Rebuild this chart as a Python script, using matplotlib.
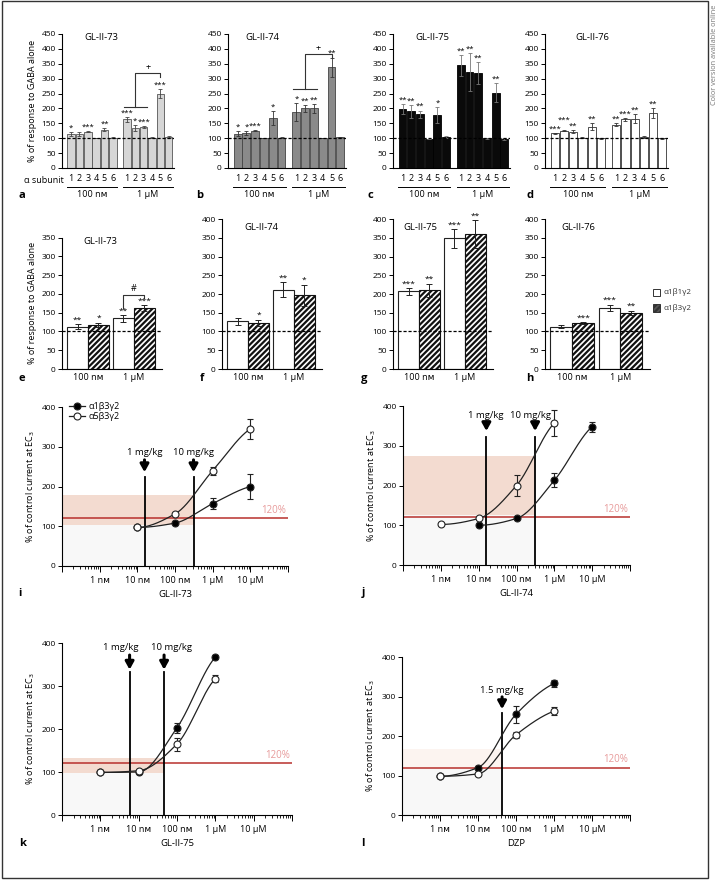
import numpy as np
import matplotlib
matplotlib.use("Agg")
import matplotlib.pyplot as plt
from matplotlib.lines import Line2D
from matplotlib.patches import Rectangle
from matplotlib.ticker import LogLocator, NullFormatter, FixedLocator

plt.rcParams['font.family'] = ['Open Sans', 'DejaVu Sans']
plt.rcParams['hatch.linewidth'] = 1.6
plt.rcParams['axes.linewidth'] = 0.8

# ---------------- data ----------------
subunits = ['1', '2', '3', '4', '5', '6']
conc_labels = ['100 nᴍ', '1 μM']

a_100 = [115, 115, 122, 100, 128, 102]; a_100_err = [6, 6, 2, 0, 5, 2]; a_100_sig = ['*', '', '***', '', '**', '']
a_1u = [163, 133, 137, 102, 250, 104]; a_1u_err = [7, 10, 4, 2, 15, 3]; a_1u_sig = ['***', '*', '***', '', '***', '']
b_100 = [115, 118, 125, 100, 168, 102]; b_100_err = [8, 6, 2, 0, 22, 2]; b_100_sig = ['*', '*', '***', '', '*', '']
b_1u = [188, 200, 200, 100, 338, 103]; b_1u_err = [30, 12, 15, 0, 33, 2]; b_1u_sig = ['*', '**', '**', '', '**', '']
c_100 = [198, 190, 180, 97, 177, 105]; c_100_err = [18, 22, 13, 0, 27, 4]; c_100_sig = ['**', '**', '**', '', '*', '']
c_1u = [345, 322, 320, 100, 252, 97]; c_1u_err = [35, 65, 37, 2, 32, 4]; c_1u_sig = ['**', '**', '**', '', '**', '']
d_100 = [117, 125, 122, 102, 138, 100]; d_100_err = [2, 1, 5, 2, 12, 1]; d_100_sig = ['***', '***', '**', '', '**', '']
d_1u = [145, 163, 165, 104, 185, 100]; d_1u_err = [5, 5, 15, 2, 18, 1]; d_1u_sig = ['**', '***', '**', '', '**', '']

receptor_labels = ['α1β1γ2', 'α1β3γ2']
e_b1 = [113, 135]; e_b1_err = [6, 9]; e_b1_sig = ['**', '**']
e_b3 = [117, 162]; e_b3_err = [6, 8]; e_b3_sig = ['*', '***']
f_b1 = [127, 211]; f_b1_err = [9, 20]; f_b1_sig = ['', '**']
f_b3 = [123, 197]; f_b3_err = [8, 28]; f_b3_sig = ['*', '*']
g_b1 = [207, 348]; g_b1_err = [9, 25]; g_b1_sig = ['***', '***']
g_b3 = [210, 360]; g_b3_err = [18, 37]; g_b3_sig = ['**', '**']
h_b1 = [113, 163]; h_b1_err = [5, 8]; h_b1_sig = ['', '***']
h_b3 = [122, 150]; h_b3_err = [2, 5]; h_b3_sig = ['***', '**']

curve_labels = ['α1β3γ2', 'α5β3γ2']
i_a1_x = [1e-8, 1e-7, 1e-6, 1e-5]; i_a1_y = [97, 108, 157, 200]; i_a1_err = [0, 0, 13, 32]
i_a5_x = [1e-8, 1e-7, 1e-6, 1e-5]; i_a5_y = [97, 131, 240, 345]; i_a5_err = [0, 0, 10, 25]
j_a1_x = [1e-8, 1e-7, 1e-6, 1e-5]; j_a1_y = [100, 117, 213, 348]; j_a1_err = [0, 0, 18, 13]
j_a5_x = [1e-9, 1e-8, 1e-7, 1e-6]; j_a5_y = [102, 117, 200, 357]; j_a5_err = [0, 0, 27, 33]
k_a1_x = [1e-9, 1e-8, 1e-7, 1e-6]; k_a1_y = [99, 100, 203, 367]; k_a1_err = [0, 0, 12, 5]
k_a5_x = [1e-9, 1e-8, 1e-7, 1e-6]; k_a5_y = [99, 103, 165, 317]; k_a5_err = [0, 0, 15, 8]
l_a1_x = [1e-9, 1e-8, 1e-7, 1e-6]; l_a1_y = [98, 120, 255, 333]; l_a1_err = [0, 0, 22, 8]
l_a5_x = [1e-9, 1e-8, 1e-7, 1e-6]; l_a5_y = [98, 104, 203, 263]; l_a5_err = [0, 0, 8, 10]

log_ticks = [1e-10, 1e-9, 1e-8, 1e-7, 1e-6, 1e-5, 1e-4]
log_ticklabels = ['', '1 nᴍ', '10 nᴍ', '100 nᴍ', '1 μM', '10 μM', '']

# ---------------- layout helpers ----------------
W, H = 719, 880
fig = plt.figure(figsize=(W / 100, H / 100), dpi=100)


def add_ax(x0, ytop, x1, ybot):
    return fig.add_axes([x0 / W, 1 - ybot / H, (x1 - x0) / W, (ybot - ytop) / H])


def ftext(x, y, s, **kw):
    kw.setdefault('ha', 'center')
    kw.setdefault('va', 'center')
    fig.text(x / W, 1 - y / H, s, **kw)


TICK = 6
STAR = 5.6


def style(ax):
    for s in ['top', 'right']:
        ax.spines[s].set_visible(False)
    ax.tick_params(labelsize=TICK, width=0.7, length=3, pad=1.5)


# ---------------- row 1: alpha-subunit bars ----------------
def bar_panel(ax, vals, color, edge, ecol):
    pos_groups = [np.arange(6), np.arange(6) + 6.7]
    for pos, (v, e, s) in zip(pos_groups, vals):
        ax.bar(pos, v, width=0.9, color=color, edgecolor=edge, linewidth=0.6, zorder=2)
        ax.errorbar(pos, v, yerr=e, fmt='none', ecolor=ecol, elinewidth=0.6,
                    capsize=1.3, capthick=0.6, zorder=3)
        last = None
        for p, val, er, st in zip(pos, v, e, s):
            if st:
                y = val + er + 1
                # stagger two neighbouring '***' labels so they do not collide
                if last is not None and p - last[0] <= 1.01 and abs(y - last[1]) < 26 \
                        and len(st) == 3 and len(last[2]) == 3:
                    y = last[1] + 27
                ax.text(p, y, st, ha='center', va='bottom', fontsize=STAR, zorder=4)
                last = (p, y, st)
            else:
                last = None
    ax.axhline(100, ls=(0, (2.5, 1.5)), color='k', lw=0.9, zorder=5)
    ax.set_xlim(-1.1, 12.35)
    ax.set_ylim(0, 450)
    ax.set_yticks(range(0, 451, 50))
    ax.set_xticks(np.concatenate(pos_groups), subunits * 2)
    style(ax)
    ax.tick_params(axis='x', length=0, pad=4, labelsize=6.5)
    tr = ax.get_xaxis_transform()
    for pos, lab in zip(pos_groups, conc_labels):
        ax.plot([pos[0] - 0.5, pos[-1] + 0.5], [-0.142, -0.142], color='k', lw=0.7,
                transform=tr, clip_on=False)
        ax.text(pos.mean(), -0.20, lab, transform=tr, ha='center', va='center', fontsize=6.5)
    return pos_groups


ax_a = add_ax(62, 34, 174, 168)
pa = bar_panel(ax_a, [(a_100, a_100_err, a_100_sig), (a_1u, a_1u_err, a_1u_sig)],
               '#d6d6d6', '#555555', '#444444')
ax_b = add_ax(228, 34, 346, 168)
pb = bar_panel(ax_b, [(b_100, b_100_err, b_100_sig), (b_1u, b_1u_err, b_1u_sig)],
               '#8a8a8a', '#444444', '#333333')
ax_c = add_ax(393, 34, 510, 168)
pc = bar_panel(ax_c, [(c_100, c_100_err, c_100_sig), (c_1u, c_1u_err, c_1u_sig)],
               '#0a0a0a', '#000000', '#777777')
ax_d = add_ax(545, 34, 668, 168)
pd = bar_panel(ax_d, [(d_100, d_100_err, d_100_sig), (d_1u, d_1u_err, d_1u_sig)],
               'white', '#333333', '#333333')

# comparison brackets (+)
g2 = pa[1]
ax_a.plot([g2[0] - 0.4, g2[2] + 0.4], [205, 205], color='#333', lw=0.8)
ax_a.plot([g2[1], g2[1], g2[4], g2[4]], [205, 319, 319, 305], color='#333', lw=0.8)
ax_a.text((g2[1] + g2[4]) / 2, 323, '+', ha='center', va='bottom', fontsize=6.5)
g2 = pb[1]
ax_b.plot([g2[0] - 0.4, g2[2] + 0.4], [265, 265], color='#333', lw=0.8)
ax_b.plot([g2[1], g2[1], g2[4], g2[4]], [265, 382, 382, 369], color='#333', lw=0.8)
ax_b.text((g2[1] + g2[4]) / 2, 386, '+', ha='center', va='bottom', fontsize=6.5)

ax_a.set_ylabel('% of response to GABA alone', fontsize=6.5, labelpad=3)
ftext(64, 180, 'α subunit', ha='right', fontsize=6.5)
for x, s in [(101, 'GL-II-73'), (262, 'GL-II-74'), (432, 'GL-II-75'), (592, 'GL-II-76')]:
    ftext(x, 38, s, fontsize=6.8)
for x, s in [(22, 'a'), (200, 'b'), (370, 'c'), (530, 'd')]:
    ftext(x, 195, s, fontsize=8, fontweight='bold')


# ---------------- row 2: beta subunit bars ----------------
def pair_panel(ax, b1, b3, ymax):
    pos = np.array([0.0, 2.2])
    (v1, e1, s1), (v3, e3, s3) = b1, b3
    ax.bar(pos, v1, width=1.0, color='white', edgecolor='#222', linewidth=0.8, zorder=2)
    ax.bar(pos + 1, v3, width=1.0, color='white', edgecolor='#111', hatch='//////',
           linewidth=0.8, zorder=2)
    for p, v, e, s in [(pos, v1, e1, s1), (pos + 1, v3, e3, s3)]:
        ax.errorbar(p, v, yerr=e, fmt='none', ecolor='#222', elinewidth=0.7,
                    capsize=2, capthick=0.7, zorder=3)
        for pp, val, er, st in zip(p, v, e, s):
            if st:
                ax.text(pp, val + er + 2, st, ha='center', va='bottom', fontsize=6, zorder=4)
    ax.axhline(100, ls=(0, (2.5, 1.5)), color='k', lw=0.9, zorder=5)
    ax.set_xlim(-0.75, 4.05)
    ax.set_ylim(0, ymax)
    ax.set_yticks(range(0, ymax + 1, 50))
    ax.set_xticks(pos + 0.5, conc_labels)
    style(ax)
    ax.tick_params(axis='x', length=0, pad=3, labelsize=6.5)
    return pos


ax_e = add_ax(62, 369 - 350 * 0.375, 162, 369)
pe = pair_panel(ax_e, (e_b1, e_b1_err, e_b1_sig), (e_b3, e_b3_err, e_b3_sig), 350)
ax_e.plot([pe[1], pe[1], pe[1] + 1, pe[1] + 1], [163, 197, 197, 190], color='#333', lw=0.8)
ax_e.text(pe[1] + 0.5, 203, '#', ha='center', va='bottom', fontsize=6.5)
ax_e.set_ylabel('% of response to GABA alone', fontsize=6.5, labelpad=3)
ax_f = add_ax(222, 219, 322, 369)
pair_panel(ax_f, (f_b1, f_b1_err, f_b1_sig), (f_b3, f_b3_err, f_b3_sig), 400)
ax_g = add_ax(393, 219, 493, 369)
pair_panel(ax_g, (g_b1, g_b1_err, g_b1_sig), (g_b3, g_b3_err, g_b3_sig), 400)
ax_h = add_ax(545, 219, 650, 369)
pair_panel(ax_h, (h_b1, h_b1_err, h_b1_sig), (h_b3, h_b3_err, h_b3_sig), 400)

for x, y, s in [(100, 242, 'GL-II-73'), (261, 228, 'GL-II-74'), (420, 228, 'GL-II-75'), (578, 228, 'GL-II-76')]:
    ftext(x, y, s, fontsize=6.8)
for x, s in [(22, 'e'), (202, 'f'), (364, 'g'), (530, 'h')]:
    ftext(x, 378, s, fontsize=8, fontweight='bold')

# legend for e-h
for k, (lab, hatch, fc) in enumerate(zip(receptor_labels, [None, '//////'], ['white', '#555555'])):
    y = 292 + k * 16
    rect = Rectangle((653 / W, 1 - (y + 4) / H), 7 / W, 7.5 / H, transform=fig.transFigure,
                     facecolor=fc, edgecolor='#333', lw=0.7, hatch=hatch)
    fig.patches.append(rect)
    ftext(663, y, lab, ha='left', fontsize=5.8, color='#333')


# ---------------- row 3-4: concentration-response curves ----------------
def pchip(x, y, xq):
    x = np.asarray(x, float); y = np.asarray(y, float)
    h = np.diff(x); d = np.diff(y) / h
    n = len(x); m = np.zeros(n)
    m[0] = 0.0
    m[-1] = d[-1] * 0.6
    for k in range(1, n - 1):
        if d[k - 1] * d[k] <= 0:
            m[k] = 0
        else:
            w1 = 2 * h[k] + h[k - 1]; w2 = h[k] + 2 * h[k - 1]
            m[k] = (w1 + w2) / (w1 / d[k - 1] + w2 / d[k])
    idx = np.clip(np.searchsorted(x, xq) - 1, 0, n - 2)
    t = (xq - x[idx]) / h[idx]
    h00 = 2 * t**3 - 3 * t**2 + 1; h10 = t**3 - 2 * t**2 + t
    h01 = -2 * t**3 + 3 * t**2; h11 = t**3 - t**2
    return h00 * y[idx] + h10 * h[idx] * m[idx] + h01 * y[idx + 1] + h11 * h[idx] * m[idx + 1]


RED = '#b8302c'
SHADE = '#f3dbd0'


def curve_panel(ax, s1, s5, doses, shade, red_y=120, legend=False):
    ax.set_xscale('log')
    ax.set_xlim(1e-10, 1e-4)
    ax.set_ylim(0, 400)
    if shade is not None:
        x1, ylo, yhi, col = shade
        ax.fill_between([1e-10, x1], 0, ylo, color='#f8f8f8', lw=0, zorder=0)
        ax.fill_between([1e-10, x1], ylo, yhi, color=col, lw=0, zorder=0.5)
    ax.axhline(red_y, color=RED, lw=1.1, zorder=1)
    ax.text(0.99, red_y + 6, '120%', transform=ax.get_yaxis_transform(), ha='right', va='bottom',
            fontsize=7, color='#e79a9a')
    for xd, top, tail, tip, lab, xt in doses:
        ax.plot([xd, xd], [0, top], color='k', lw=1.3, zorder=2)
        ax.annotate('', xy=(xd, tip), xytext=(xd, tail),
                    arrowprops=dict(arrowstyle='-|>,head_width=0.25,head_length=0.45', lw=2.2,
                                    color='k', shrinkA=0, shrinkB=0), zorder=3)
        ax.text(xt, tail + 6, lab, ha='center', va='bottom', fontsize=6.8)
    handles = []
    for (x, y, e), fc, lab in [(s1, 'black', curve_labels[0]), (s5, 'white', curve_labels[1])]:
        lx = np.log10(x)
        xq = np.linspace(lx[0], lx[-1], 200)
        ax.plot(10 ** xq, pchip(lx, y, xq), color='#222', lw=0.9, zorder=4)
        ax.errorbar(x, y, yerr=e, fmt='none', ecolor='#222', elinewidth=0.8, capsize=2,
                    capthick=0.8, zorder=5)
        ax.plot(x, y, 'o', ms=5, mfc=fc, mec='#222', mew=0.8, zorder=6 if fc == 'white' else 5.5)
        handles.append(Line2D([], [], color='#222', lw=0.9, marker='o', ms=5, mfc=fc, mec='#222',
                              mew=0.8, label=lab))
    if legend:
        ax.legend(handles=handles, loc='upper left', bbox_to_anchor=(0.03, 1.03), frameon=False,
                  fontsize=6.5, handlelength=1.8, handletextpad=0.4, labelspacing=0.05,
                  borderpad=0, borderaxespad=0)
    ax.set_yticks([0, 100, 200, 300, 400])
    ax.xaxis.set_major_locator(FixedLocator(log_ticks))
    ax.set_xticklabels(log_ticklabels)
    ax.xaxis.set_minor_locator(LogLocator(base=10, subs=np.arange(2, 10), numticks=20))
    ax.xaxis.set_minor_formatter(NullFormatter())
    style(ax)
    ax.tick_params(axis='x', which='major', length=4, pad=3, labelsize=6.5)
    ax.tick_params(axis='x', which='minor', length=2.5, width=0.6)
    ax.set_ylabel('% of control current at EC$_3$', fontsize=6.5, labelpad=3)


ax_i = add_ax(62, 407, 288, 566)
curve_panel(ax_i, (i_a1_x, i_a1_y, i_a1_err), (i_a5_x, i_a5_y, i_a5_err),
            [(1.55e-8, 224, 267, 236, '1 mg/kg', 1.55e-8), (3.1e-7, 224, 267, 236, '10 mg/kg', 3.1e-7)],
            (3.1e-7, 103, 178, SHADE), legend=True)
ax_i.set_xlabel('GL-II-73', fontsize=6.8, labelpad=4)

ax_j = add_ax(403, 406, 630, 565)
curve_panel(ax_j, (j_a1_x, j_a1_y, j_a1_err), (j_a5_x, j_a5_y, j_a5_err),
            [(1.6e-8, 322, 360, 337, '1 mg/kg', 1.5e-8), (3.1e-7, 322, 360, 337, '10 mg/kg', 2.3e-7)],
            (3.1e-7, 125, 275, SHADE))
ax_j.set_xlabel('GL-II-74', fontsize=6.8, labelpad=4)

ax_k = add_ax(62, 643, 292, 815)
curve_panel(ax_k, (k_a1_x, k_a1_y, k_a1_err), (k_a5_x, k_a5_y, k_a5_err),
            [(5.8e-9, 333, 372, 338, '1 mg/kg', 3.4e-9), (4.6e-8, 333, 372, 338, '10 mg/kg', 7.0e-8)],
            (4.6e-8, 98, 133, SHADE))
ax_k.set_xlabel('GL-II-75', fontsize=6.8, labelpad=4)

ax_l = add_ax(402, 657, 630, 815)
curve_panel(ax_l, (l_a1_x, l_a1_y, l_a1_err), (l_a5_x, l_a5_y, l_a5_err),
            [(4.3e-8, 258, 299, 268, '1.5 mg/kg', 4.3e-8)],
            (4.3e-8, 120, 166, '#fcf4f0'))
ax_l.set_xlabel('DZP', fontsize=6.8, labelpad=4)

for x, y, s in [(20, 593, 'i'), (363, 593, 'j'), (23, 843, 'k'), (363, 843, 'l')]:
    ftext(x, y, s, fontsize=8, fontweight='bold')

# frame and side note
fig.patches.append(Rectangle((1.5 / W, 1 - 878 / H), 706.5 / W, 876.5 / H, transform=fig.transFigure,
                             fill=False, edgecolor='#333', lw=1.0))
ftext(714, 55, 'Color version available online', rotation=90, fontsize=5.3, color='#777')

fig.savefig('out.png', dpi=100)
